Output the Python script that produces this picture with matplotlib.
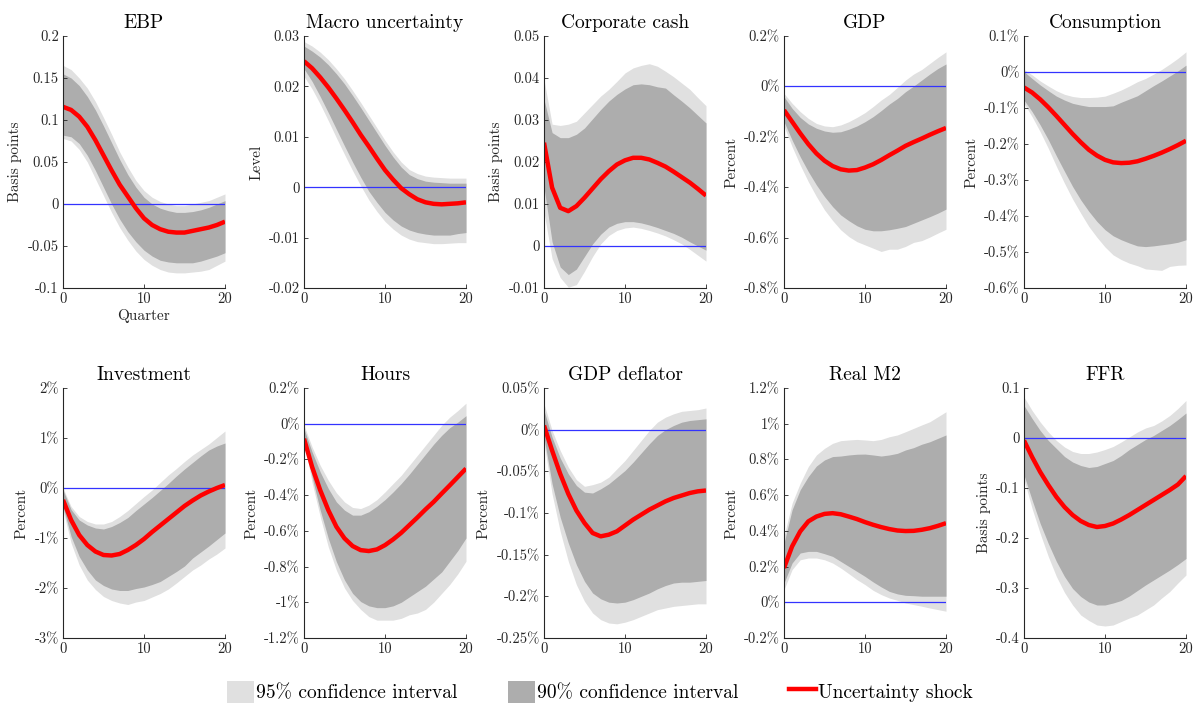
import numpy as np
import matplotlib
matplotlib.use('Agg')
import matplotlib.pyplot as plt
from matplotlib.patches import Patch
from matplotlib.lines import Line2D

plt.rcParams['font.family'] = ['cmr10', 'DejaVu Serif']
plt.rcParams['axes.unicode_minus'] = False
plt.rcParams['mathtext.fontset'] = 'cm'

quarters = list(range(21))

# EBP (basis points)
ebp_irf = [0.1157, 0.112, 0.104, 0.092, 0.076, 0.058, 0.040, 0.023, 0.009, -0.005, -0.017,
           -0.025, -0.030, -0.033, -0.034, -0.034, -0.032, -0.030, -0.028, -0.025, -0.021]
ebp_hi95 = [0.165, 0.160, 0.150, 0.138, 0.122, 0.103, 0.083, 0.062, 0.044, 0.028, 0.016,
            0.008, 0.003, 0.0, -0.002, -0.002, 0.0, 0.002, 0.004, 0.008, 0.012]
ebp_hi90 = [0.155, 0.150, 0.141, 0.128, 0.112, 0.093, 0.073, 0.053, 0.035, 0.020, 0.008,
            0.0, -0.005, -0.008, -0.010, -0.010, -0.009, -0.007, -0.004, 0.0, 0.004]
ebp_lo90 = [0.082, 0.080, 0.072, 0.058, 0.040, 0.020, 0.000, -0.018, -0.033, -0.045, -0.055,
            -0.062, -0.067, -0.069, -0.070, -0.070, -0.070, -0.068, -0.065, -0.062, -0.058]
ebp_lo95 = [0.078, 0.075, 0.065, 0.050, 0.030, 0.010, -0.010, -0.028, -0.043, -0.056, -0.066,
            -0.073, -0.078, -0.081, -0.082, -0.082, -0.081, -0.080, -0.078, -0.073, -0.068]

# Macro uncertainty (level)
unc_irf = [0.025, 0.0236, 0.0218, 0.0198, 0.0176, 0.0153, 0.0129, 0.0104, 0.0081, 0.0057, 0.0034,
           0.0015, -0.0002, -0.0014, -0.0024, -0.003, -0.0033, -0.0034, -0.0033, -0.0032, -0.003]
unc_hi95 = [0.0289, 0.0280, 0.0268, 0.0253, 0.0235, 0.0215, 0.0192, 0.0168, 0.0143, 0.0118, 0.0093,
            0.0070, 0.0050, 0.0035, 0.0027, 0.0022, 0.0020, 0.0019, 0.0018, 0.0018, 0.0018]
unc_hi90 = [0.028, 0.027, 0.0258, 0.0243, 0.0225, 0.0205, 0.0182, 0.0158, 0.0133, 0.0108, 0.0083,
            0.006, 0.004, 0.0025, 0.0017, 0.0012, 0.001, 0.0009, 0.0008, 0.0008, 0.0008]
unc_lo90 = [0.0235, 0.021, 0.018, 0.0148, 0.0115, 0.0082, 0.005, 0.002, -0.0008, -0.003, -0.005,
            -0.0065, -0.0077, -0.0085, -0.009, -0.0093, -0.0095, -0.0095, -0.0095, -0.0092, -0.009]
unc_lo95 = [0.022, 0.0195, 0.0165, 0.0132, 0.0098, 0.0065, 0.0033, 0.0003, -0.0025, -0.0048, -0.0068,
            -0.0083, -0.0095, -0.0103, -0.0108, -0.011, -0.0112, -0.0112, -0.0111, -0.011, -0.011]

# Corporate cash (basis points)
cash_irf = [0.0246, 0.0139, 0.0091, 0.0083, 0.0095, 0.0115, 0.0137, 0.0159, 0.0178, 0.0194, 0.0204,
            0.021, 0.021, 0.0206, 0.0198, 0.0189, 0.0177, 0.0164, 0.0151, 0.0136, 0.012]
cash_hi95 = [0.0396, 0.029, 0.0287, 0.029, 0.0297, 0.0317, 0.0337, 0.0357, 0.0373, 0.0392, 0.0412,
             0.0424, 0.043, 0.0434, 0.0428, 0.0416, 0.0403, 0.0388, 0.0373, 0.0353, 0.0334]
cash_hi90 = [0.0349, 0.027, 0.0258, 0.0258, 0.0266, 0.0281, 0.0303, 0.0325, 0.0345, 0.0361, 0.0374,
             0.0384, 0.0386, 0.0384, 0.0379, 0.0376, 0.036, 0.0345, 0.0329, 0.0311, 0.0293]
cash_lo90 = [0.014, 0.001, -0.005, -0.0068, -0.0055, -0.0025, 0.0005, 0.0028, 0.0045, 0.0054, 0.0058,
             0.0058, 0.0055, 0.005, 0.0044, 0.0037, 0.003, 0.0021, 0.001, 0.0, -0.001]
cash_lo95 = [0.008, -0.003, -0.0075, -0.0098, -0.0092, -0.006, -0.0025, 0.0005, 0.0025, 0.0037, 0.0043,
             0.0045, 0.0042, 0.0037, 0.0031, 0.0024, 0.0015, 0.0005, -0.0008, -0.0022, -0.0036]

# GDP (percent)
gdp_irf = [-0.094, -0.14, -0.186, -0.229, -0.266, -0.295, -0.316, -0.329, -0.334, -0.332, -0.322,
           -0.309, -0.292, -0.273, -0.255, -0.236, -0.221, -0.207, -0.192, -0.178, -0.165]
gdp_hi95 = [-0.028, -0.067, -0.10, -0.127, -0.147, -0.157, -0.16, -0.153, -0.14, -0.123, -0.104,
            -0.08, -0.054, -0.032, -0.004, 0.025, 0.049, 0.067, 0.091, 0.115, 0.137]
gdp_hi90 = [-0.041, -0.087, -0.123, -0.149, -0.166, -0.177, -0.182, -0.18, -0.17, -0.157, -0.14,
            -0.12, -0.096, -0.07, -0.048, -0.021, 0.001, 0.025, 0.049, 0.071, 0.089]
gdp_lo90 = [-0.14, -0.213, -0.279, -0.338, -0.391, -0.437, -0.477, -0.51, -0.533, -0.553, -0.567,
            -0.573, -0.573, -0.569, -0.563, -0.556, -0.543, -0.53, -0.517, -0.503, -0.487]
gdp_lo95 = [-0.157, -0.239, -0.312, -0.378, -0.437, -0.49, -0.532, -0.569, -0.596, -0.616, -0.629,
            -0.642, -0.655, -0.646, -0.646, -0.635, -0.619, -0.612, -0.598, -0.582, -0.567]

# Consumption (percent)
cons_irf = [-0.043, -0.057, -0.076, -0.098, -0.122, -0.147, -0.172, -0.195, -0.216, -0.232, -0.244,
            -0.251, -0.253, -0.252, -0.248, -0.241, -0.233, -0.224, -0.214, -0.203, -0.191]
cons_hi95 = [0.007, -0.008, -0.025, -0.039, -0.052, -0.062, -0.068, -0.071, -0.071, -0.07, -0.067,
             -0.059, -0.05, -0.039, -0.027, -0.018, -0.006, 0.007, 0.022, 0.038, 0.056]
cons_hi90 = [0.001, -0.018, -0.036, -0.052, -0.067, -0.078, -0.087, -0.092, -0.096, -0.096, -0.096,
             -0.094, -0.084, -0.075, -0.066, -0.052, -0.038, -0.025, -0.011, 0.003, 0.019]
cons_lo90 = [-0.078, -0.110, -0.147, -0.188, -0.233, -0.276, -0.318, -0.355, -0.387, -0.415, -0.438,
             -0.455, -0.466, -0.475, -0.483, -0.485, -0.483, -0.48, -0.477, -0.473, -0.466]
cons_lo95 = [-0.087, -0.124, -0.166, -0.212, -0.262, -0.309, -0.353, -0.392, -0.429, -0.459, -0.486,
             -0.508, -0.521, -0.531, -0.538, -0.547, -0.549, -0.551, -0.54, -0.537, -0.536]

# Investment (percent)
inv_irf = [-0.24, -0.64, -0.94, -1.14, -1.27, -1.34, -1.35, -1.32, -1.24, -1.14, -1.02,
           -0.88, -0.75, -0.62, -0.49, -0.36, -0.25, -0.15, -0.07, 0.0, 0.06]
inv_hi95 = [0.0, -0.37, -0.57, -0.67, -0.72, -0.72, -0.67, -0.57, -0.45, -0.31, -0.17,
            -0.04, 0.11, 0.26, 0.39, 0.53, 0.66, 0.77, 0.88, 1.01, 1.14]
inv_hi90 = [-0.04, -0.43, -0.64, -0.74, -0.80, -0.82, -0.77, -0.69, -0.59, -0.45, -0.32,
            -0.19, -0.05, 0.09, 0.24, 0.38, 0.51, 0.64, 0.76, 0.84, 0.90]
inv_lo90 = [-0.37, -0.97, -1.37, -1.64, -1.84, -1.95, -2.02, -2.05, -2.05, -2.01, -1.98,
            -1.93, -1.87, -1.77, -1.67, -1.56, -1.40, -1.28, -1.16, -1.03, -0.90]
inv_lo95 = [-0.44, -1.10, -1.54, -1.84, -2.03, -2.17, -2.25, -2.30, -2.33, -2.28, -2.25,
            -2.18, -2.11, -2.02, -1.90, -1.77, -1.64, -1.54, -1.42, -1.32, -1.20]

# Hours (percent)
hrs_irf = [-0.084, -0.242, -0.372, -0.484, -0.577, -0.642, -0.685, -0.708, -0.713, -0.704, -0.68,
           -0.648, -0.611, -0.568, -0.525, -0.48, -0.438, -0.391, -0.345, -0.298, -0.251]
hrs_hi95 = [-0.009, -0.13, -0.233, -0.317, -0.387, -0.438, -0.469, -0.475, -0.456, -0.425, -0.382,
            -0.335, -0.289, -0.233, -0.177, -0.121, -0.065, -0.009, 0.037, 0.074, 0.115]
hrs_hi90 = [-0.028, -0.158, -0.27, -0.363, -0.438, -0.484, -0.512, -0.512, -0.493, -0.462, -0.425,
            -0.382, -0.335, -0.283, -0.227, -0.171, -0.115, -0.065, -0.022, 0.009, 0.045]
hrs_lo90 = [-0.093, -0.298, -0.484, -0.642, -0.773, -0.875, -0.95, -0.996, -1.02, -1.03, -1.03,
            -1.02, -1.0, -0.97, -0.94, -0.91, -0.87, -0.83, -0.77, -0.71, -0.64]
hrs_lo95 = [-0.10, -0.33, -0.52, -0.69, -0.82, -0.92, -0.99, -1.04, -1.08, -1.10, -1.10,
            -1.10, -1.09, -1.07, -1.06, -1.04, -1.0, -0.95, -0.90, -0.84, -0.77]

# GDP deflator (percent)
defl_irf = [0.005, -0.025, -0.053, -0.077, -0.097, -0.112, -0.124, -0.128, -0.126, -0.122, -0.115,
            -0.108, -0.102, -0.096, -0.091, -0.086, -0.082, -0.079, -0.076, -0.074, -0.073]
defl_hi95 = [0.031, -0.001, -0.025, -0.045, -0.06, -0.068, -0.066, -0.063, -0.057, -0.047, -0.037,
             -0.025, -0.013, -0.001, 0.009, 0.015, 0.019, 0.022, 0.023, 0.024, 0.026]
defl_hi90 = [0.023, -0.009, -0.034, -0.053, -0.067, -0.075, -0.076, -0.071, -0.065, -0.057, -0.049,
             -0.039, -0.028, -0.017, -0.007, 0.0, 0.005, 0.009, 0.011, 0.012, 0.013]
defl_lo90 = [-0.009, -0.065, -0.105, -0.136, -0.162, -0.182, -0.196, -0.203, -0.207, -0.208, -0.207,
             -0.204, -0.2, -0.196, -0.191, -0.187, -0.184, -0.183, -0.183, -0.182, -0.181]
defl_lo95 = [-0.015, -0.077, -0.122, -0.158, -0.186, -0.206, -0.22, -0.228, -0.232, -0.233, -0.231,
             -0.228, -0.224, -0.22, -0.216, -0.214, -0.212, -0.211, -0.21, -0.209, -0.209]

# Real M2 (percent)
m2_irf = [0.192, 0.313, 0.397, 0.453, 0.48, 0.495, 0.499, 0.493, 0.48, 0.466, 0.449,
          0.434, 0.421, 0.41, 0.402, 0.399, 0.4, 0.406, 0.415, 0.428, 0.443]
m2_hi95 = [0.369, 0.555, 0.667, 0.76, 0.825, 0.862, 0.89, 0.905, 0.909, 0.912, 0.909,
           0.905, 0.912, 0.927, 0.937, 0.955, 0.974, 0.993, 1.011, 1.039, 1.067]
m2_hi90 = [0.331, 0.518, 0.63, 0.704, 0.763, 0.797, 0.816, 0.819, 0.825, 0.829, 0.83,
           0.825, 0.819, 0.825, 0.834, 0.853, 0.866, 0.885, 0.899, 0.918, 0.937]
m2_lo90 = [0.108, 0.22, 0.276, 0.285, 0.285, 0.272, 0.257, 0.229, 0.201, 0.173, 0.145,
           0.114, 0.086, 0.061, 0.047, 0.039, 0.037, 0.034, 0.034, 0.034, 0.034]
m2_lo95 = [0.071, 0.183, 0.238, 0.248, 0.248, 0.238, 0.22, 0.192, 0.16, 0.127, 0.099,
           0.067, 0.043, 0.024, 0.011, -0.004, -0.013, -0.022, -0.032, -0.041, -0.05]

# FFR (basis points)
ffr_irf = [-0.005, -0.038, -0.068, -0.094, -0.118, -0.138, -0.154, -0.166, -0.174, -0.178, -0.176,
           -0.171, -0.163, -0.154, -0.144, -0.134, -0.124, -0.114, -0.104, -0.093, -0.076]
ffr_hi95 = [0.082, 0.055, 0.032, 0.012, -0.005, -0.018, -0.027, -0.031, -0.031, -0.028, -0.023,
            -0.017, -0.008, 0.002, 0.012, 0.02, 0.025, 0.034, 0.045, 0.059, 0.075]
ffr_hi90 = [0.065, 0.039, 0.015, -0.005, -0.021, -0.037, -0.048, -0.055, -0.059, -0.057, -0.051,
            -0.045, -0.035, -0.023, -0.013, -0.003, 0.005, 0.015, 0.025, 0.037, 0.05]
ffr_lo90 = [-0.074, -0.124, -0.171, -0.211, -0.247, -0.277, -0.301, -0.317, -0.328, -0.334, -0.334,
            -0.33, -0.325, -0.316, -0.305, -0.294, -0.284, -0.274, -0.264, -0.253, -0.241]
ffr_lo95 = [-0.083, -0.141, -0.191, -0.237, -0.277, -0.309, -0.334, -0.354, -0.365, -0.374, -0.376,
            -0.374, -0.367, -0.36, -0.354, -0.344, -0.334, -0.32, -0.307, -0.29, -0.274]

titles = ['EBP', 'Macro uncertainty', 'Corporate cash', 'GDP', 'Consumption',
          'Investment', 'Hours', 'GDP deflator', 'Real M2', 'FFR']
ylabels = ['Basis points', 'Level', 'Basis points', 'Percent', 'Percent',
           'Percent', 'Percent', 'Percent', 'Percent', 'Basis points']
yticks = [[-0.1, -0.05, 0, 0.05, 0.1, 0.15, 0.2],
          [-0.02, -0.01, 0, 0.01, 0.02, 0.03],
          [-0.01, 0, 0.01, 0.02, 0.03, 0.04, 0.05],
          [-0.8, -0.6, -0.4, -0.2, 0, 0.2],
          [-0.6, -0.5, -0.4, -0.3, -0.2, -0.1, 0, 0.1],
          [-3, -2, -1, 0, 1, 2],
          [-1.2, -1, -0.8, -0.6, -0.4, -0.2, 0, 0.2],
          [-0.25, -0.2, -0.15, -0.1, -0.05, 0, 0.05],
          [-0.2, 0, 0.2, 0.4, 0.6, 0.8, 1, 1.2],
          [-0.4, -0.3, -0.2, -0.1, 0, 0.1]]
percent = [False, False, False, True, True, True, True, True, True, False]

irfs = [ebp_irf, unc_irf, cash_irf, gdp_irf, cons_irf, inv_irf, hrs_irf, defl_irf, m2_irf, ffr_irf]
hi95 = [ebp_hi95, unc_hi95, cash_hi95, gdp_hi95, cons_hi95, inv_hi95, hrs_hi95, defl_hi95, m2_hi95, ffr_hi95]
hi90 = [ebp_hi90, unc_hi90, cash_hi90, gdp_hi90, cons_hi90, inv_hi90, hrs_hi90, defl_hi90, m2_hi90, ffr_hi90]
lo90 = [ebp_lo90, unc_lo90, cash_lo90, gdp_lo90, cons_lo90, inv_lo90, hrs_lo90, defl_lo90, m2_lo90, ffr_lo90]
lo95 = [ebp_lo95, unc_lo95, cash_lo95, gdp_lo95, cons_lo95, inv_lo95, hrs_lo95, defl_lo95, m2_lo95, ffr_lo95]

light = '#e0e0e0'
dark = '#adadad'
axcol = '#262626'

fig = plt.figure(figsize=(12, 7.17), dpi=100)

lefts = [63, 304, 544, 784, 1024]
for i in range(10):
    row, col = divmod(i, 5)
    if row == 0:
        rect = [lefts[col] / 1200, 1 - 288 / 717, 162 / 1200, 252 / 717]
    else:
        rect = [lefts[col] / 1200, 1 - 638 / 717, 162 / 1200, 250 / 717]
    ax = fig.add_axes(rect)

    ax.fill_between(quarters, lo95[i], hi95[i], color=light, lw=0)
    ax.fill_between(quarters, lo90[i], hi90[i], color=dark, lw=0)
    ax.plot([0, 20], [0, 0], color='#3333ff', lw=0.9)
    ax.plot(quarters, irfs[i], color='#ff0000', lw=3.2,
            solid_capstyle='butt', solid_joinstyle='round')

    ax.set_xlim(0, 20)
    ax.set_ylim(yticks[i][0], yticks[i][-1])
    ax.set_xticks([0, 10, 20])
    ax.set_yticks(yticks[i])
    suffix = '%' if percent[i] else ''
    ax.set_yticklabels([f'{round(v, 4):g}{suffix}' for v in yticks[i]])

    for s in ['top', 'right']:
        ax.spines[s].set_visible(False)
    for s in ['left', 'bottom']:
        ax.spines[s].set_color(axcol)
        ax.spines[s].set_linewidth(0.8)
    ax.tick_params(direction='in', length=3, width=0.6, colors=axcol,
                   labelsize=10.5, pad=3)
    ax.set_title(titles[i], fontsize=14, pad=6, color='black')
    ax.set_ylabel(ylabels[i], fontsize=11, color=axcol, labelpad=4)
    if i == 0:
        ax.set_xlabel('Quarter', fontsize=11, color=axcol, labelpad=2)

handles = [Patch(facecolor=light, edgecolor='none'),
           Patch(facecolor=dark, edgecolor='none'),
           Line2D([0], [0], color='#ff0000', lw=3.2)]
labels = ['95% confidence interval', '90% confidence interval', 'Uncertainty shock']
fig.legend(handles, labels, loc='lower center', bbox_to_anchor=(0.5, -0.005), ncol=3,
           frameon=False, fontsize=14, handlelength=1.4, handleheight=1.4,
           handletextpad=0.1, columnspacing=2.6)

fig.savefig('out.png', dpi=100)
